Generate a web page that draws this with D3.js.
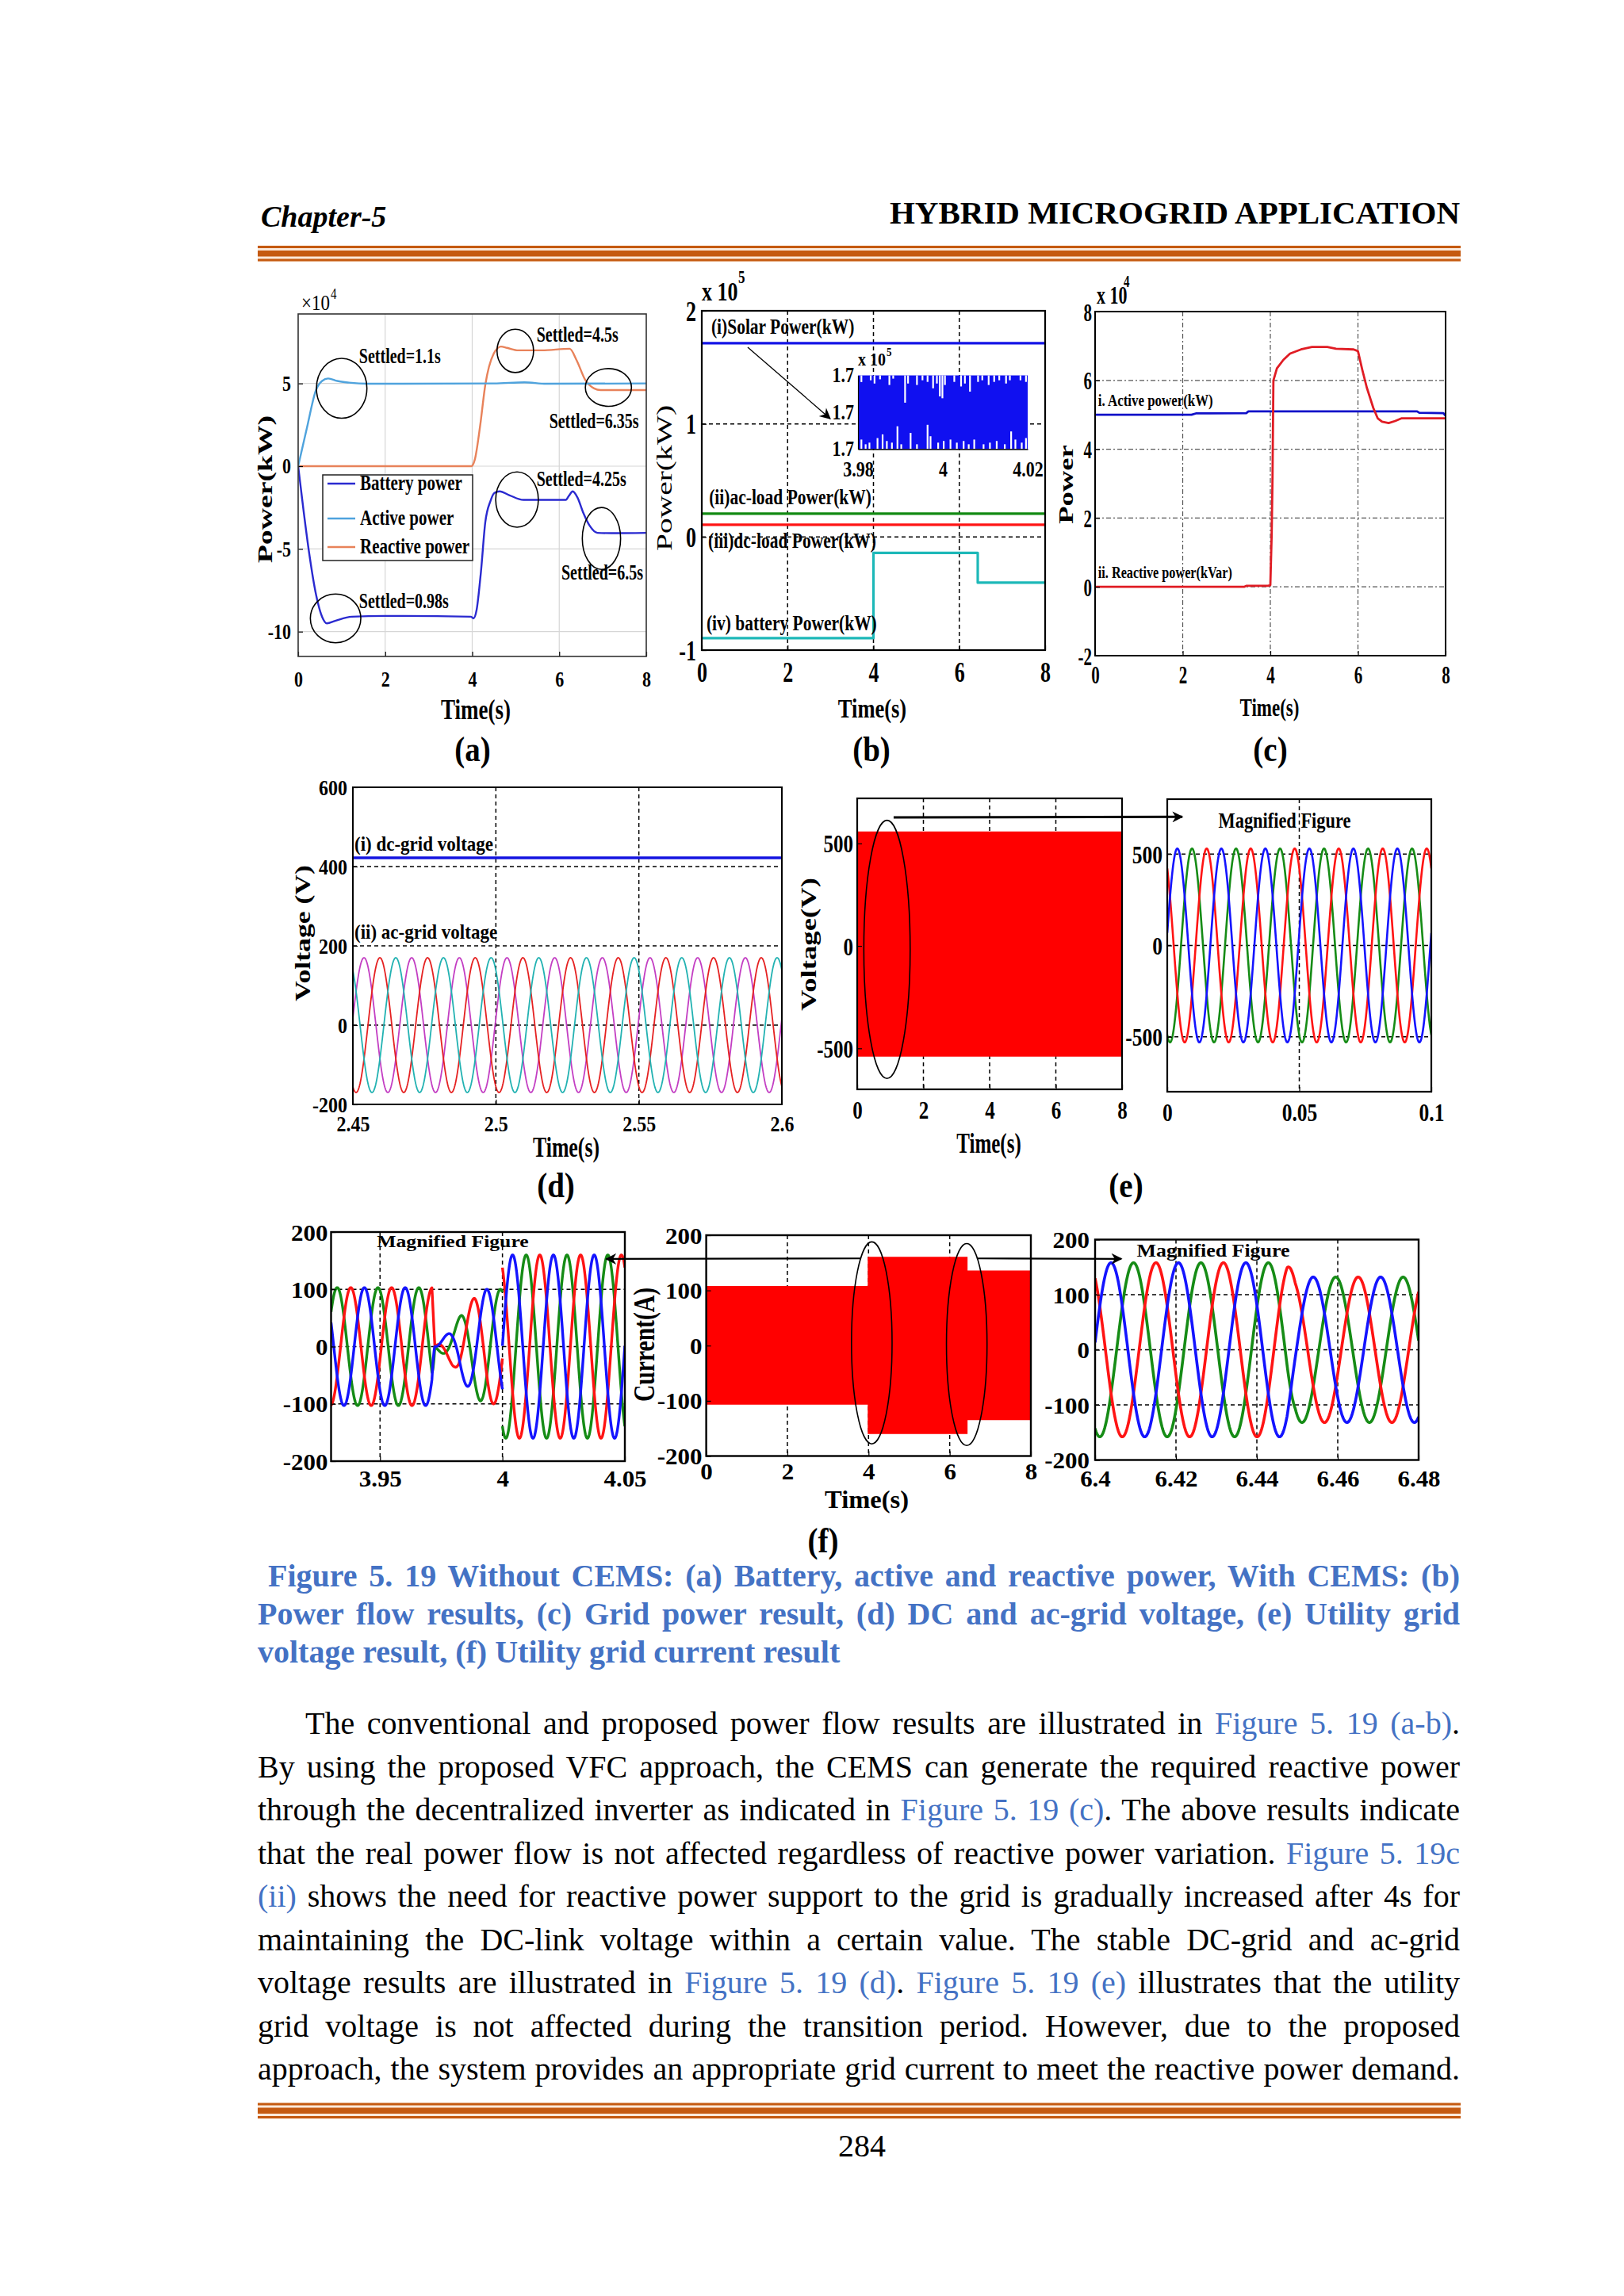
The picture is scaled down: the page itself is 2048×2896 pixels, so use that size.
<!DOCTYPE html>
<html>
<head>
<meta charset="utf-8">
<script src="https://cdn.jsdelivr.net/npm/d3@7"></script>
<style>
  body { margin: 0; background: #fff; }
  svg text { font-family: "Liberation Serif", "Times New Roman", serif; }
</style>
</head>
<body>
<div id="page"></div>
<script>
// ---------------- data ----------------
// (a) without CEMS, power x10^4 kW vs time (s)
var aActive = [[0,0],[0.2,2.3],[0.41,4.6],[0.55,5.15],[0.69,5.3],[0.9,5.15],[1.17,5.05],[1.6,4.98],[4.5,5.0],[5.2,5.07],[5.7,4.98],[8,5.0]];
var aReactive = [[0,0],[3.98,0],[4.06,0.4],[4.18,2.4],[4.3,4.9],[4.49,6.78],[4.66,7.23],[4.8,7.15],[5.06,7.0],[5.6,7.0],[6.24,7.1],[6.4,6.4],[6.6,5.2],[6.8,4.7],[6.95,4.6],[8,4.6]];
var aBattery = [[0,0],[0.12,-2.6],[0.25,-5.2],[0.41,-7.75],[0.55,-9.1],[0.66,-9.5],[0.85,-9.35],[1.23,-9.1],[2,-9.05],[3.97,-9.1],[4.03,-9.2],[4.1,-8.7],[4.2,-6.4],[4.3,-3.4],[4.42,-2.1],[4.51,-1.62],[4.63,-1.52],[4.85,-1.75],[5.18,-2.04],[6.15,-2.04],[6.22,-1.8],[6.31,-1.52],[6.42,-1.9],[6.55,-2.8],[6.7,-3.6],[6.88,-4.03],[7.2,-4.05],[8,-4.03]];
var aLegend = ["Battery power", "Active power", "Reactive power"];
var aSettled = [
  {text: "Settled=1.1s",  lt: 1.40, lv: 6.25,  ct: 1.0,  cv: 4.71,  rt: 0.58, rv: 1.81},
  {text: "Settled=4.5s",  lt: 5.48, lv: 7.5,   ct: 4.99, cv: 6.97,  rt: 0.42, rv: 1.31},
  {text: "Settled=6.35s", lt: 5.77, lv: 2.31,  ct: 7.13, cv: 4.76,  rt: 0.53, rv: 1.14},
  {text: "Settled=4.25s", lt: 5.48, lv: -1.2,  ct: 5.03, cv: -2.02, rt: 0.49, rv: 1.67},
  {text: "Settled=6.5s",  lt: 6.05, lv: -6.83, ct: 6.97, cv: -4.37, rt: 0.44, rv: 1.87},
  {text: "Settled=0.98s", lt: 1.40, lv: -8.56, ct: 0.86, cv: -9.2,  rt: 0.58, rv: 1.47}
];

// (b) with CEMS, power x10^5 kW
var bSolar   = [[0,1.713],[8,1.713]];
var bAcLoad  = [[0,0.206],[8,0.206]];
var bDcLoad  = [[0,0.108],[8,0.108]];
var bBattery = [[0,-0.894],[4.0,-0.894],[4.0,-0.141],[6.43,-0.141],[6.43,-0.404],[8,-0.404]];
var bLabels = [
  {text: "(i)Solar Power(kW)",     t: 0.22, v: 1.80},
  {text: "(ii)ac-load Power(kW)",  t: 0.17, v: 0.29},
  {text: "(iii)dc-load Power(kW)", t: 0.15, v: -0.095},
  {text: "(iv) battery Power(kW)", t: 0.11, v: -0.824}
];
// inset: solar power ripple 3.98-4.02 s, white gaps as [time, depth fraction]
var insetTop = [[3.9808,.09],[3.983,.066],[3.9839,.11],[3.9852,.053],[3.9874,.13],[3.9883,.044],[3.9911,.37],[3.9918,.11],[3.9939,.13],[3.9952,.066],[3.9964,.088],[3.9977,.175],[3.9986,.11],[3.9993,.285],[3.9999,.31],[4.0005,.13],[4.0027,.088],[4.0043,.15],[4.0052,.11],[4.0064,.22],[4.0083,.088],[4.0093,.066],[4.0108,.13],[4.0121,.088],[4.0133,.066],[4.0149,.11],[4.0158,.066],[4.0183,.066],[4.0196,.088]];
var insetBottom = [[3.9808,.13],[3.9818,.066],[3.9827,.088],[3.9846,.15],[3.9858,.2],[3.9868,.11],[3.988,.088],[3.9893,.31],[3.9902,.066],[3.9924,.22],[3.9939,.066],[3.9964,.33],[3.9971,.175],[3.9989,.088],[4.0002,.11],[4.0018,.13],[4.0033,.088],[4.0049,.11],[4.0061,.066],[4.0074,.13],[4.0096,.066],[4.0111,.088],[4.0127,.11],[4.0146,.066],[4.0161,.24],[4.0171,.13],[4.0186,.088],[4.0196,.15]];

// (c) grid power x10^4
var cActive = [[0,5.0],[2.2,5.0],[2.3,5.04],[3.45,5.05],[3.5,5.1],[7.35,5.1],[7.4,5.06],[7.95,5.05],[8,4.97]];
var cReactive = [[0,0],[3.4,0],[3.45,0.03],[3.95,0.03],[4.0,0.05],[4.03,1.5],[4.05,3.2],[4.07,6.0],[4.15,6.35],[4.3,6.6],[4.45,6.78],[4.7,6.9],[4.95,6.97],[5.3,6.97],[5.5,6.92],[5.9,6.9],[6.0,6.85],[6.1,6.3],[6.2,5.8],[6.35,5.2],[6.45,4.9],[6.55,4.8],[6.7,4.76],[6.85,4.82],[7.0,4.9],[8,4.9]];

// sinusoidal grid quantities: frequency, amplitude envelopes and peak times of the first phase
var gridHz = 60;
var phaseFrac = [0, 1/3, 2/3];
var dDc = [[2.45,422],[2.6,422]];
var dAc = {ref: 2.4539, envT: [2.45, 2.6], envA: [170, 170]};
var eBand = {t: [0, 8], hi: 558, lo: -540};
var eZoom = {ref: 0.00938, envT: [0, 0.1], envA: [530, 530]};
var fBandT  = [0, 3.98, 3.98, 6.44, 6.44, 8];
var fBandHi = [108, 108, 161, 161, 136, 136];
var fBandLo = [-107, -107, -160, -160, -135, -135];
var fLeft = [
  {t0: 3.93, t1: 4.0, ref: 3.9325,
   envT: [3.93, 3.9712, 3.9724, 3.9775, 3.9805, 3.9833, 3.986, 3.9886, 3.991, 3.993, 4.0],
   envA: [103, 103, 0, 22, 37, 57, 72, 86, 95, 100, 100]},
  {t0: 4.0, t1: 4.05, ref: 4.0097, envT: [4.0, 4.05], envA: [160, 160]}
];
var fRight = [{t0: 6.4, t1: 6.48, ref: 6.4095, envT: [6.4, 6.4475, 6.4495, 6.48], envA: [158, 158, 132, 132]}];

// page text
var captionLines = [
  " Figure 5. 19 Without CEMS: (a) Battery, active and reactive power, With CEMS: (b)",
  "Power flow results, (c) Grid power result, (d) DC and ac-grid voltage, (e) Utility grid",
  "voltage result, (f) Utility grid current result"
];
var bodyLines = [
  [["The conventional and proposed power flow results are illustrated in "], ["Figure 5. 19 (a-b)", 1], ["."]],
  [["By using the proposed VFC approach, the CEMS can generate the required reactive power"]],
  [["through the decentralized inverter as indicated in "], ["Figure 5. 19 (c)", 1], [". The above results indicate"]],
  [["that the real power flow is not affected regardless of reactive power variation. "], ["Figure 5. 19c", 1]],
  [["(ii)", 1], [" shows the need for reactive power support to the grid is gradually increased after 4s for"]],
  [["maintaining the DC-link voltage within a certain value. The stable DC-grid and ac-grid"]],
  [["voltage results are illustrated in "], ["Figure 5. 19 (d)", 1], [". "], ["Figure 5. 19 (e)", 1], [" illustrates that the utility"]],
  [["grid voltage is not affected during the transition period. However, due to the proposed"]],
  [["approach, the system provides an appropriate grid current to meet the reactive power demand."]]
];

// ---------------- drawing ----------------
var W = 2048, H = 2896;
var serif = '"Liberation Serif","Times New Roman",serif';
var linkBlue = "#4472C4", rule = "#C55A11";
var svg = d3.select("#page").append("svg").attr("width", W).attr("height", H);
svg.append("rect").attr("width", W).attr("height", H).attr("fill", "white");

var defs = svg.append("defs");
defs.append("marker").attr("id", "head").attr("viewBox", "0 0 10 10")
  .attr("refX", 9).attr("refY", 5).attr("markerWidth", 16).attr("markerHeight", 14)
  .attr("markerUnits", "userSpaceOnUse").attr("orient", "auto")
  .append("path").attr("d", "M0,0 L10,5 L0,10 L3,5 Z").attr("fill", "black");

// text with a vertical stretch k (the figure is not scaled evenly on the page)
function label(g, x, y, str, size, k, opt) {
  opt = opt || {};
  var t = g.append("text")
    .attr("transform", `translate(${x},${y}) scale(1,${k})`)
    .attr("font-size", size)
    .attr("font-weight", opt.weight || "bold")
    .attr("text-anchor", opt.anchor || "start")
    .attr("fill", opt.fill || "black")
    .text(str);
  if (opt.italic) t.attr("font-style", "italic");
  return t;
}
// rotated axis title centred at x,y, stretched along its length by kl
function vlabel(g, x, y, str, size, kl, weight) {
  g.append("text")
    .attr("transform", `translate(${x},${y}) rotate(-90) scale(${kl},1)`)
    .attr("text-anchor", "middle")
    .attr("dominant-baseline", "central")
    .attr("font-size", size)
    .attr("font-weight", weight || "bold")
    .text(str);
}

var clipCount = 0;
function panel(p) {
  var x = d3.scaleLinear().domain(p.xd).range([p.x0, p.x1]);
  var y = d3.scaleLinear().domain(p.yd).range([p.y1, p.y0]);
  var g = svg.append("g");
  var cid = "clip" + (clipCount++);
  g.append("clipPath").attr("id", cid).append("rect")
    .attr("x", p.x0).attr("y", p.y0).attr("width", p.x1 - p.x0).attr("height", p.y1 - p.y0);

  var grid = g.append("g").attr("stroke", p.grid.color).attr("stroke-width", p.grid.width)
    .attr("stroke-dasharray", p.grid.dash || null);
  grid.selectAll("line.gx").data(p.grid.x || []).enter().append("line").attr("class", "gx")
    .attr("x1", d => x(d)).attr("x2", d => x(d)).attr("y1", p.y0).attr("y2", p.y1);
  grid.selectAll("line.gy").data(p.grid.y || []).enter().append("line").attr("class", "gy")
    .attr("y1", d => y(d)).attr("y2", d => y(d)).attr("x1", p.x0).attr("x2", p.x1);

  var plot = g.append("g").attr("clip-path", `url(#${cid})`);
  var f = p.tf;

  var xa = g.append("g").attr("transform", `translate(0,${p.y1})`)
    .call(d3.axisBottom(x).tickValues(p.xt).tickFormat(d => String(d)).tickSizeInner(-p.tick).tickSizeOuter(0));
  xa.select(".domain").remove();
  xa.selectAll("line").attr("stroke-width", 1.2);
  xa.selectAll("text").attr("y", null).attr("dy", null)
    .attr("transform", `translate(0,${p.xLabY}) scale(1,${f.k})`)
    .attr("font-size", f.size).attr("font-weight", "bold").attr("font-family", serif).attr("fill", "black");

  var ya = g.append("g").attr("transform", `translate(${p.x0},0)`)
    .call(d3.axisLeft(y).tickValues(p.yt).tickFormat(p.yf || (d => String(d))).tickSizeInner(-p.tick).tickSizeOuter(0));
  ya.select(".domain").remove();
  ya.selectAll("line").attr("stroke-width", 1.2);
  ya.selectAll("text").attr("x", null).attr("dy", null)
    .attr("transform", `translate(${-p.yLabX},${0.34 * f.size * f.k}) scale(1,${f.k})`)
    .attr("font-size", f.size).attr("font-weight", "bold").attr("font-family", serif).attr("fill", "black");

  g.append("rect").attr("x", p.x0).attr("y", p.y0).attr("width", p.x1 - p.x0).attr("height", p.y1 - p.y0)
    .attr("fill", "none").attr("stroke", p.boxColor || "black").attr("stroke-width", p.boxW || 2);
  var over = g.append("g");
  return {x: x, y: y, g: g, plot: plot, over: over};
}

function drawLine(P, data, color, width, curve) {
  P.plot.append("path").datum(data)
    .attr("fill", "none").attr("stroke", color).attr("stroke-width", width)
    .attr("stroke-linejoin", "round")
    .attr("d", d3.line().x(d => P.x(d[0])).y(d => P.y(d[1])).curve(curve || d3.curveLinear));
}

function phaseSamples(seg, frac, t0, t1, n) {
  var env = d3.scaleLinear().domain(seg.envT).range(seg.envA).clamp(true);
  var T = 1 / gridHz;
  return d3.range(n + 1).map(function(i) {
    var t = t0 + (t1 - t0) * i / n;
    return [t, env(t) * Math.cos(2 * Math.PI * (t - seg.ref - frac * T) / T)];
  });
}

function ellipse(P, ct, cv, rt, rv) {
  P.over.append("ellipse")
    .attr("cx", P.x(ct)).attr("cy", P.y(cv))
    .attr("rx", Math.abs(P.x(ct + rt) - P.x(ct))).attr("ry", Math.abs(P.y(cv + rv) - P.y(cv)))
    .attr("fill", "none").attr("stroke", "black").attr("stroke-width", 1.6);
}
function arrow(g, x1, y1, x2, y2, w) {
  g.append("line").attr("x1", x1).attr("y1", y1).attr("x2", x2).attr("y2", y2)
    .attr("stroke", "black").attr("stroke-width", w || 2).attr("marker-end", "url(#head)");
}

// ---------- header and rules ----------
label(svg, 329, 286, "Chapter-5", 38, 1, {italic: true});
label(svg, 1841, 282, "HYBRID MICROGRID APPLICATION", 41, 1, {anchor: "end"});
function rules(y) {
  svg.append("rect").attr("x", 325).attr("y", y).attr("width", 1517).attr("height", 21).attr("fill", "#FBE9DA");
  svg.append("rect").attr("x", 325).attr("y", y + 0.5).attr("width", 1517).attr("height", 3).attr("fill", rule);
  svg.append("rect").attr("x", 325).attr("y", y + 6.5).attr("width", 1517).attr("height", 7.5).attr("fill", rule);
  svg.append("rect").attr("x", 325).attr("y", y + 17).attr("width", 1517).attr("height", 3).attr("fill", rule);
}
rules(309.5);
rules(2652);

// ---------- (a) ----------
var A = panel({x0: 376, x1: 815, y0: 396, y1: 828, xd: [0, 8], yd: [-11.5, 9.2],
  xt: [0, 2, 4, 6, 8], yt: [5, 0, -5, -10], tick: 6,
  grid: {x: [2, 4, 6], y: [5, 0, -5, -10], color: "#d6d6d6", width: 1.2},
  tf: {size: 22, k: 1.2}, xLabY: 38, yLabX: 9, boxW: 1.6, boxColor: "#333"});
drawLine(A, aReactive, "#E8825A", 2.4, d3.curveMonotoneX);
drawLine(A, aActive, "#4FA3DD", 2.4, d3.curveMonotoneX);
drawLine(A, aBattery, "#2A2AD0", 2.4, d3.curveMonotoneX);
aSettled.forEach(function(s) {
  ellipse(A, s.ct, s.cv, s.rt, s.rv);
  label(A.over, A.x(s.lt), A.y(s.lv), s.text, 20, 1.35);
});
var aLeg = A.over.append("g");
aLeg.append("rect").attr("x", 407).attr("y", 599).attr("width", 189).attr("height", 108)
  .attr("fill", "white").attr("stroke", "#222").attr("stroke-width", 1.5);
var aLegColors = ["#2A2AD0", "#4FA3DD", "#E8825A"];
var aLegY = [610, 654, 690];
aLegend.forEach(function(name, i) {
  aLeg.append("line").attr("x1", 413).attr("x2", 448).attr("y1", aLegY[i]).attr("y2", aLegY[i])
    .attr("stroke", aLegColors[i]).attr("stroke-width", 2.4);
  label(aLeg, 454, aLegY[i] + 8, name, 21, 1.3);
});
label(svg, 380, 391, "\u00d710", 23, 1.2, {weight: "normal"});
label(svg, 417, 377, "4", 15, 1.2, {weight: "normal"});
vlabel(svg, 334, 617, "Power(kW)", 26, 1.45);
label(svg, 600, 907, "Time(s)", 27, 1.35, {anchor: "middle"});
label(svg, 596, 960, "(a)", 39, 1.15, {anchor: "middle"});

// ---------- (b) ----------
var B = panel({x0: 885, x1: 1318, y0: 392, y1: 820, xd: [0, 8], yd: [-1, 2],
  xt: [0, 2, 4, 6, 8], yt: [2, 1, 0, -1], tick: 6,
  grid: {x: [2, 4, 6], y: [1, 0], color: "black", width: 1.5, dash: "5,4"},
  tf: {size: 26, k: 1.38}, xLabY: 40, yLabX: 7, boxW: 2.2});
drawLine(B, bSolar, "#1414E6", 3.2);
drawLine(B, bAcLoad, "#118A11", 3.2);
drawLine(B, bDcLoad, "#FF1414", 3.2);
drawLine(B, bBattery, "#1DB8B8", 3.2);
bLabels.forEach(function(l) { label(B.over, B.x(l.t), B.y(l.v), l.text, 21.5, 1.3); });
arrow(B.over, B.x(1.07), B.y(1.678), B.x(2.99), B.y(1.047), 1.3);

// inset of (b)
var ix = d3.scaleLinear().domain([3.98, 4.02]).range([1082, 1296]);
var iy = d3.scaleLinear().domain([1.6999, 1.7001]).range([566.5, 473.5]);
var ins = B.over.append("g");
ins.append("rect").attr("x", ix(3.98)).attr("y", iy(1.7001)).attr("width", ix(4.02) - ix(3.98))
  .attr("height", iy(1.6999) - iy(1.7001)).attr("fill", "#1010F0");
var iSpan = 1.7001 - 1.6999;
ins.selectAll("line.top").data(insetTop).enter().append("line").attr("class", "top")
  .attr("x1", d => ix(d[0])).attr("x2", d => ix(d[0]))
  .attr("y1", iy(1.7001)).attr("y2", d => iy(1.7001 - d[1] * iSpan))
  .attr("stroke", "white").attr("stroke-width", 2.2);
ins.selectAll("line.bot").data(insetBottom).enter().append("line").attr("class", "bot")
  .attr("x1", d => ix(d[0])).attr("x2", d => ix(d[0]))
  .attr("y1", iy(1.6999)).attr("y2", d => iy(1.6999 + d[1] * iSpan))
  .attr("stroke", "white").attr("stroke-width", 2.2);
var ixa = ins.append("g").attr("transform", `translate(0,${iy(1.6999)})`)
  .call(d3.axisBottom(ix).tickValues([3.98, 4, 4.02]).tickFormat(d => String(d)).tickSize(0));
ixa.select(".domain").attr("stroke-width", 1.6);
ixa.selectAll("text").attr("y", null).attr("dy", null)
  .attr("transform", "translate(0,34) scale(1,1.2)")
  .attr("font-size", 22).attr("font-weight", "bold").attr("font-family", serif).attr("fill", "black");
var iya = ins.append("g").attr("transform", `translate(${ix(3.98)},0)`)
  .call(d3.axisLeft(iy).tickValues([1.6999, 1.7, 1.7001]).tickFormat(d3.format(".1f")).tickSize(0));
iya.select(".domain").attr("stroke-width", 1.2);
iya.selectAll("text").attr("x", null).attr("dy", null)
  .attr("transform", "translate(-5,8) scale(1,1.2)")
  .attr("font-size", 22).attr("font-weight", "bold").attr("font-family", serif).attr("fill", "black");
label(ins, 1082, 461, "x 10", 20, 1.2);
label(ins, 1118, 449, "5", 13, 1.2);

label(svg, 885, 379, "x 10", 26, 1.3);
label(svg, 931, 357, "5", 17, 1.3);
vlabel(svg, 838, 603, "Power(kW)", 28, 1.41, "normal");
label(svg, 1100, 905, "Time(s)", 26.5, 1.28, {anchor: "middle"});
label(svg, 1099, 960, "(b)", 39, 1.15, {anchor: "middle"});

// ---------- (c) ----------
var C = panel({x0: 1381, x1: 1823, y0: 393, y1: 827, xd: [0, 8], yd: [-2, 8],
  xt: [0, 2, 4, 6, 8], yt: [8, 6, 4, 2, 0, -2], tick: 6,
  grid: {x: [2, 4, 6], y: [6, 4, 2, 0], color: "#555", width: 1.2, dash: "6,3,2,3"},
  tf: {size: 21, k: 1.55}, xLabY: 35, yLabX: 4, boxW: 2});
drawLine(C, cActive, "#1010C8", 2.8);
drawLine(C, cReactive, "#E01C24", 2.8);
label(C.over, C.x(0.07), 512, "i. Active power(kW)", 16.9, 1.3);
label(C.over, C.x(0.07), 729, "ii. Reactive power(kVar)", 16.2, 1.35);
label(svg, 1383, 383, "x 10", 22, 1.4);
label(svg, 1417, 362, "4", 15, 1.4);
vlabel(svg, 1344, 611, "Power", 26, 1.41);
label(svg, 1601, 903, "Time(s)", 23, 1.38, {anchor: "middle"});
label(svg, 1602, 960, "(c)", 39, 1.15, {anchor: "middle"});

// ---------- (d) ----------
var D = panel({x0: 445, x1: 986, y0: 993, y1: 1393, xd: [2.45, 2.6], yd: [-200, 600],
  xt: [2.45, 2.5, 2.55, 2.6], yt: [600, 400, 200, 0, -200], tick: 6,
  grid: {x: [2.5, 2.55], y: [400, 200, 0], color: "black", width: 1.5, dash: "5,4"},
  tf: {size: 24, k: 1.15}, xLabY: 34, yLabX: 7, boxW: 2});
var dColors = ["#C33EC3", "#E52121", "#22B2B2"];
phaseFrac.forEach(function(fr, i) {
  drawLine(D, phaseSamples(dAc, fr, 2.45, 2.6, 900), dColors[i], 1.8);
});
drawLine(D, dDc, "#1414E0", 3.6);
label(D.over, 447, 1073, "(i) dc-grid voltage", 23, 1.05);
label(D.over, 447, 1184, "(ii) ac-grid voltage", 23, 1.05);
vlabel(svg, 382, 1177, "Voltage (V)", 26.4, 1.35);
label(svg, 714, 1459, "Time(s)", 25.8, 1.35, {anchor: "middle"});
label(svg, 701, 1510, "(d)", 39, 1.15, {anchor: "middle"});

// ---------- (e) ----------
var E1 = panel({x0: 1081, x1: 1415, y0: 1007, y1: 1374, xd: [0, 8], yd: [-700, 720],
  xt: [0, 2, 4, 6, 8], yt: [500, 0, -500], tick: 6,
  grid: {x: [2, 4, 6], y: [], color: "black", width: 1.5, dash: "5,4"},
  tf: {size: 25, k: 1.3}, xLabY: 37, yLabX: 5, boxW: 2.2});
E1.plot.append("path").datum(eBand.t)
  .attr("fill", "#FF0000")
  .attr("d", d3.area().x(d => E1.x(d)).y0(E1.y(eBand.lo)).y1(E1.y(eBand.hi)));
ellipse(E1, 0.90, -17, 0.70, 630);
var E2 = panel({x0: 1472, x1: 1805, y0: 1008, y1: 1377, xd: [0, 0.1], yd: [-800, 800],
  xt: [0, 0.05, 0.1], yt: [500, 0, -500], tick: 6,
  grid: {x: [0.05], y: [500, 0, -500], color: "black", width: 1.5, dash: "5,4"},
  tf: {size: 25.5, k: 1.25}, xLabY: 37, yLabX: 6, boxW: 2.2});
var rgbColors = ["#168C16", "#FF1414", "#1414FF"];
phaseFrac.forEach(function(fr, i) {
  drawLine(E2, phaseSamples(eZoom, fr, 0, 0.1, 800), rgbColors[i], 2.6);
});
label(E2.over, 1620, 1044, "Magnified Figure", 22.4, 1.21, {anchor: "middle"});
arrow(svg, E1.x(1.10), E1.y(627), E2.x(0.0057), E2.y(703), 3);
vlabel(svg, 1020, 1191, "Voltage(V)", 27, 1.36);
label(svg, 1247, 1454, "Time(s)", 25, 1.4, {anchor: "middle"});
label(svg, 1420, 1510, "(e)", 39, 1.15, {anchor: "middle"});

// ---------- (f) ----------
var fTicks = [200, 100, 0, -100, -200];
var F1 = panel({x0: 417.5, x1: 788, y0: 1554, y1: 1843, xd: [3.93, 4.05], yd: [-200, 200],
  xt: [3.95, 4, 4.05], yt: fTicks, tick: 6,
  grid: {x: [3.95, 4], y: [100, 0, -100], color: "black", width: 1.5, dash: "5,4"},
  tf: {size: 31, k: 0.95}, xLabY: 32, yLabX: 4, boxW: 2.4});
fLeft.forEach(function(seg) {
  phaseFrac.forEach(function(fr, i) {
    drawLine(F1, phaseSamples(seg, fr, seg.t0, seg.t1, 700), rgbColors[i], 3.4);
  });
});
label(F1.over, 571, 1573, "Magnified Figure", 25.7, 0.82, {anchor: "middle"});

var F2 = panel({x0: 890.6, x1: 1300, y0: 1558, y1: 1836.5, xd: [0, 8], yd: [-200, 200],
  xt: [0, 2, 4, 6, 8], yt: fTicks, tick: 6,
  grid: {x: [2, 4, 6], y: [], color: "black", width: 1.5, dash: "5,4"},
  tf: {size: 31, k: 0.95}, xLabY: 29, yLabX: 5, boxW: 2.4});
F2.plot.append("path").datum(d3.range(fBandT.length))
  .attr("fill", "#FF0000")
  .attr("d", d3.area().x(i => F2.x(fBandT[i])).y0(i => F2.y(fBandLo[i])).y1(i => F2.y(fBandHi[i])));
ellipse(F2, 4.08, 5, 0.5, 183);
ellipse(F2, 6.42, 2, 0.5, 183);

var F3 = panel({x0: 1381, x1: 1789, y0: 1563.5, y1: 1841.5, xd: [6.4, 6.48], yd: [-200, 200],
  xt: [6.4, 6.42, 6.44, 6.46, 6.48], yt: fTicks, tick: 6,
  grid: {x: [6.42, 6.44, 6.46], y: [100, 0, -100], color: "black", width: 1.5, dash: "5,4"},
  tf: {size: 31, k: 0.95}, xLabY: 33, yLabX: 7, boxW: 2.4});
fRight.forEach(function(seg) {
  phaseFrac.forEach(function(fr, i) {
    drawLine(F3, phaseSamples(seg, fr, seg.t0, seg.t1, 600), rgbColors[i], 3.6);
  });
});
label(F3.over, 1530, 1585, "Magnified Figure", 25.9, 0.88, {anchor: "middle"});
arrow(svg, F2.x(3.82), F2.y(158), F1.x(4.0424), F1.y(153), 2.2);
arrow(svg, F2.x(6.67), F2.y(158), F3.x(6.4065), F3.y(165), 2.2);
vlabel(svg, 812, 1696, "Current(A)", 37, 0.8);
label(svg, 1093, 1902, "Time(s)", 32.5, 1.0, {anchor: "middle"});
label(svg, 1038, 1958, "(f)", 39, 1.15, {anchor: "middle"});

// ---------- caption and body text ----------
function justify(sel, width) {
  var node = sel.node();
  var w = node.getComputedTextLength();
  var n = (node.textContent.replace(/\s+/g, " ").trim().match(/ /g) || []).length;
  if (n > 0) sel.attr("word-spacing", (width - w) / n);
}
var capX = [338, 325, 325], capY = [2001, 2049, 2097];
captionLines.forEach(function(line, i) {
  var t = svg.append("text").attr("x", capX[i]).attr("y", capY[i])
    .attr("font-size", 40).attr("font-weight", "bold").attr("fill", linkBlue)
    .text(line.trim());
  if (i < 2) justify(t, 1841 - capX[i]);
});
bodyLines.forEach(function(parts, i) {
  var x0 = i === 0 ? 385 : 325;
  var t = svg.append("text").attr("x", x0).attr("y", 2187 + i * 54.5)
    .attr("font-size", 40).attr("fill", "black").attr("xml:space", "preserve");
  parts.forEach(function(p) {
    t.append("tspan").attr("fill", p[1] ? linkBlue : "black").text(p[0]);
  });
  justify(t, 1841 - x0);
});
label(svg, 1087, 2720, "284", 40, 1, {anchor: "middle", weight: "normal"});
</script>
</body>
</html>
